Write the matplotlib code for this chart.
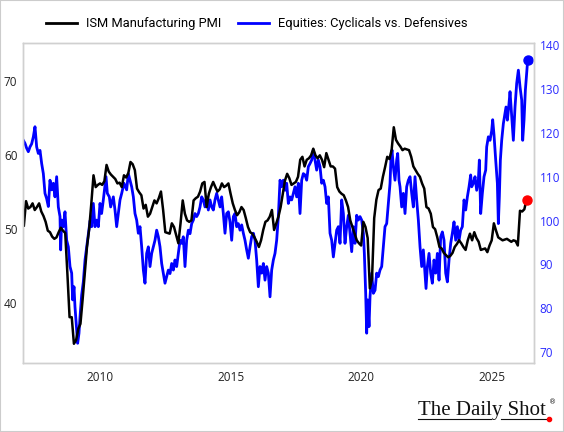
import numpy as np
import matplotlib
matplotlib.use("Agg")
import matplotlib.pyplot as plt
from matplotlib.lines import Line2D

# ISM Manufacturing PMI, monthly (month-end), Jan 2007 .. Apr 2026
pmi = [
    50.5, 53.8, 52.8, 53.0, 53.5, 52.6, 53.0, 53.5, 52.4, 51.8, 51.0, 49.8,   # 2007
    49.6, 49.0, 48.7, 48.9, 49.6, 50.2, 49.8, 49.5, 44.0, 38.1, 38.1, 34.5,   # 2008
    35.0, 36.5, 37.2, 40.5, 44.0, 47.6, 50.0, 53.5, 57.3, 55.7, 56.0, 56.2,   # 2009
    56.0, 56.5, 58.7, 57.8, 57.4, 57.1, 56.8, 56.2, 56.3, 55.7, 57.3, 57.0,   # 2010
    57.6, 59.1, 58.8, 58.0, 55.5, 55.0, 54.6, 52.8, 53.3, 51.7, 52.1, 53.0,   # 2011
    53.9, 53.5, 54.2, 55.1, 52.6, 49.6, 49.5, 49.4, 50.8, 50.3, 49.2, 48.1,   # 2012
    50.8, 53.9, 52.1, 51.2, 51.0, 51.2, 53.9, 54.2, 54.4, 55.1, 56.2, 56.4,   # 2013
    53.0, 54.8, 55.7, 56.4, 55.7, 55.1, 55.4, 56.2, 55.7, 55.9, 56.2, 54.8,   # 2014
    53.5, 52.6, 51.9, 52.3, 53.0, 52.6, 51.5, 50.3, 49.6, 49.4, 48.9, 48.3,   # 2015
    47.6, 48.5, 49.9, 51.0, 51.2, 51.7, 52.6, 49.9, 50.8, 51.7, 53.0, 54.8,   # 2016
    56.6, 57.5, 56.9, 56.0, 56.2, 56.4, 57.1, 59.4, 59.8, 58.5, 59.4, 59.6,   # 2017
    60.0, 60.9, 60.0, 59.6, 60.0, 59.4, 58.4, 60.3, 59.4, 58.5, 58.5, 58.2,   # 2018
    55.7, 55.1, 54.8, 54.6, 53.9, 53.0, 51.2, 50.3, 49.4, 48.5, 48.1, 47.8,   # 2019
    51.0, 50.3, 48.8, 42.0, 43.3, 51.5, 54.0, 55.3, 55.5, 57.1, 58.4, 59.8,   # 2020
    59.5, 60.7, 63.8, 62.1, 61.6, 61.2, 60.7, 60.9, 60.8, 60.7, 59.8, 58.5,   # 2021
    58.0, 57.5, 57.1, 56.2, 55.5, 53.0, 52.8, 52.1, 50.3, 50.0, 48.9, 47.6,   # 2022
    47.4, 46.8, 46.5, 46.2, 46.4, 46.8, 47.6, 48.0, 48.5, 48.1, 47.6, 47.2,   # 2023
    48.5, 49.4, 48.5, 49.6, 48.8, 48.3, 47.2, 47.3, 47.4, 46.9, 47.8, 48.5,   # 2024
    50.8, 49.8, 48.9, 48.7, 48.5, 48.6, 48.7, 48.5, 48.3, 48.5, 48.4, 47.8,   # 2025
    52.5, 52.4, 52.7, 54.0,                                                   # 2026
]
pmi_dates = 2007 + np.arange(1, len(pmi) + 1) / 12.0

# Equities: cyclicals vs. defensives (decimal years)
eq_dates = [
    2007.063, 2007.127, 2007.19, 2007.254, 2007.318, 2007.382, 2007.446, 2007.509, 2007.573, 2007.637,
    2007.701, 2007.765, 2007.829, 2007.892, 2007.956, 2008.020, 2008.084, 2008.148, 2008.212, 2008.275,
    2008.339, 2008.403, 2008.467, 2008.493, 2008.531, 2008.595, 2008.658, 2008.722, 2008.786, 2008.850,
    2008.914, 2008.952, 2009.003, 2009.041, 2009.105, 2009.143, 2009.194, 2009.233, 2009.296, 2009.36,
    2009.425, 2009.489, 2009.55, 2009.62, 2009.68, 2009.743, 2009.807, 2009.871, 2009.935, 2009.999,
    2010.06, 2010.126, 2010.229, 2010.28, 2010.356, 2010.407, 2010.51, 2010.573, 2010.637, 2010.70,
    2010.765, 2010.83, 2010.918, 2011.02, 2011.084, 2011.148, 2011.212, 2011.276, 2011.339, 2011.403,
    2011.467, 2011.531, 2011.595, 2011.659, 2011.722, 2011.786, 2011.85, 2011.914, 2011.978, 2012.042,
    2012.105, 2012.169, 2012.233, 2012.297, 2012.361, 2012.425, 2012.488, 2012.552, 2012.616, 2012.68,
    2012.744, 2012.808, 2012.871, 2012.935, 2012.999, 2013.063, 2013.127, 2013.19, 2013.254, 2013.318,
    2013.382, 2013.446, 2013.51, 2013.573, 2013.637, 2013.701, 2013.765, 2013.829, 2013.893, 2013.956,
    2014.02, 2014.084, 2014.148, 2014.212, 2014.276, 2014.339, 2014.403, 2014.467, 2014.531, 2014.595,
    2014.658, 2014.722, 2014.786, 2014.85, 2014.914, 2014.978, 2015.042, 2015.106, 2015.17, 2015.233,
    2015.297, 2015.361, 2015.425, 2015.489, 2015.552, 2015.616, 2015.68, 2015.744, 2015.808, 2015.872,
    2015.935, 2015.999, 2016.063, 2016.127, 2016.191, 2016.255, 2016.318, 2016.382, 2016.446, 2016.51,
    2016.574, 2016.638, 2016.701, 2016.765, 2016.829, 2016.893, 2016.957, 2017.02, 2017.084, 2017.148,
    2017.212, 2017.276, 2017.34, 2017.404, 2017.467, 2017.531, 2017.595, 2017.659, 2017.723, 2017.786,
    2017.85, 2017.914, 2017.978, 2018.042, 2018.106, 2018.169, 2018.233, 2018.297, 2018.361, 2018.425,
    2018.489, 2018.553, 2018.617, 2018.68, 2018.744, 2018.808, 2018.872, 2018.936, 2018.999, 2019.063,
    2019.127, 2019.191, 2019.255, 2019.319, 2019.382, 2019.446, 2019.51, 2019.574, 2019.638, 2019.702,
    2019.765, 2019.829, 2019.893, 2019.957, 2020.021, 2020.085, 2020.123, 2020.174, 2020.212, 2020.25,
    2020.302, 2020.34, 2020.404, 2020.468, 2020.532, 2020.595, 2020.659, 2020.723, 2020.787, 2020.851,
    2020.914, 2020.978, 2021.042, 2021.106, 2021.144, 2021.182, 2021.233, 2021.297, 2021.361, 2021.4,
    2021.45, 2021.489, 2021.553, 2021.617, 2021.68, 2021.744, 2021.808, 2021.872, 2021.936, 2021.999,
    2022.063, 2022.127, 2022.191, 2022.255, 2022.319, 2022.382, 2022.446, 2022.485, 2022.536, 2022.6,
    2022.664, 2022.727, 2022.791, 2022.855, 2022.919, 2022.983, 2023.046, 2023.11, 2023.174, 2023.238,
    2023.302, 2023.366, 2023.43, 2023.493, 2023.557, 2023.621, 2023.685, 2023.749, 2023.812, 2023.876,
    2023.94, 2024.004, 2024.068, 2024.132, 2024.195, 2024.234, 2024.298, 2024.361, 2024.425, 2024.489,
    2024.527, 2024.578, 2024.642, 2024.706, 2024.77, 2024.808, 2024.872, 2024.936, 2025.0, 2025.038,
    2025.089, 2025.153, 2025.217, 2025.255, 2025.293, 2025.332, 2025.383, 2025.446, 2025.51, 2025.548,
    2025.6, 2025.663, 2025.702, 2025.766, 2025.829, 2025.893, 2025.957, 2026.021, 2026.085, 2026.149,
    2026.187, 2026.238, 2026.289, 2026.34, 2026.378,
]
equities = [
    118.3, 117.6, 116.5, 115.7, 116.8, 117.5, 119.1, 121.4, 116.8, 115.3,
    116.0, 113.0, 110.7, 106.2, 105.0, 103.2, 109.2, 107.0, 108.5, 105.4,
    110.0, 103.1, 100.9, 93.3, 100.1, 98.6, 102.0, 95.5, 94.0, 89.5,
    88.0, 81.9, 84.9, 80.3, 75.0, 72.0, 74.3, 78.0, 83.0, 86.0,
    91.0, 94.0, 97.0, 100.0, 98.6, 103.9, 98.6, 100.1, 98.6, 103.9,
    101.6, 104.7, 110.0, 106.2, 105.4, 103.1, 105.4, 102.4, 98.6, 101.6,
    104.7, 106.2, 108.5, 107.0, 110.7, 109.2, 107.7, 105.4, 101.6, 100.1,
    97.1, 98.6, 94.0, 88.7, 85.7, 92.5, 94.0, 89.5, 92.5, 94.0,
    95.5, 97.8, 96.3, 94.0, 90.2, 87.9, 85.7, 87.2, 88.7, 87.9,
    90.2, 88.7, 91.0, 89.5, 92.5, 95.5, 94.8, 96.3, 89.5, 95.5,
    97.8, 97.0, 99.3, 100.1, 101.6, 100.9, 101.6, 103.1, 105.4, 104.7,
    103.1, 105.4, 102.4, 104.7, 103.1, 102.4, 104.7, 106.2, 104.7, 103.1,
    105.4, 101.6, 97.1, 101.6, 102.0, 99.7, 95.5, 100.9, 101.6, 98.6,
    99.3, 97.8, 99.0, 97.1, 95.5, 93.3, 91.4, 94.0, 96.3, 97.1,
    95.5, 91.0, 84.9, 89.5, 88.0, 90.2, 86.4, 89.5, 88.0, 82.6,
    88.7, 91.0, 92.5, 95.5, 100.9, 109.2, 107.7, 109.2, 106.9, 108.5,
    103.9, 105.4, 104.7, 106.2, 107.7, 105.4, 108.5, 101.6, 109.2, 110.7,
    110.4, 109.2, 112.3, 113.0, 113.8, 116.1, 113.8, 111.5, 113.8, 112.3,
    108.5, 109.2, 107.7, 103.9, 105.4, 97.1, 95.5, 91.7, 94.8, 97.8,
    98.6, 94.8, 104.7, 101.6, 94.8, 98.6, 101.2, 97.1, 92.9, 98.6,
    94.8, 101.2, 100.1, 100.9, 100.1, 97.1, 92.5, 83.4, 74.3, 81.9,
    75.8, 82.6, 88.0, 83.4, 84.1, 88.0, 87.2, 88.7, 89.5, 94.0,
    98.6, 99.3, 103.9, 108.5, 114.5, 116.1, 112.3, 109.2, 113.8, 115.3,
    109.2, 107.7, 103.1, 106.2, 101.6, 107.7, 109.2, 110.0, 106.2, 103.1,
    110.0, 104.7, 100.1, 94.0, 89.5, 93.3, 88.0, 84.5, 89.5, 92.5,
    88.0, 85.7, 91.0, 88.0, 92.5, 86.4, 96.3, 97.4, 95.5, 88.0,
    86.0, 91.0, 94.8, 97.1, 99.7, 95.5, 98.6, 95.5, 97.8, 98.6,
    104.7, 102.4, 105.4, 107.7, 110.4, 107.7, 108.5, 110.0, 106.9, 109.2,
    113.8, 101.6, 106.2, 110.0, 111.5, 116.8, 119.1, 118.3, 120.5, 123.0,
    119.5, 113.8, 108.5, 99.3, 105.4, 113.8, 118.3, 122.1, 124.4, 125.9,
    122.9, 126.7, 129.4, 123.7, 118.3, 125.9, 131.3, 134.3, 130.5, 127.5,
    118.3, 122.9, 129.7, 133.5, 136.6,
]

x_ticks = [2010, 2015, 2020, 2025]
left_ticks = [40, 50, 60, 70]
right_ticks = [70, 80, 90, 100, 110, 120, 130, 140]

plt.rcParams['font.family'] = ['Open Sans', 'DejaVu Sans']

fig = plt.figure(figsize=(5.64, 4.32), dpi=100)
ax = fig.add_axes([23 / 564, 69 / 432, 511 / 564, 320 / 432])
axb = ax.twinx()

# blue series on the right axis, PMI on the left (drawn on top)
ax.plot(eq_dates, equities, color='#0000ff', lw=2.0, solid_joinstyle='round')
ax.plot(eq_dates[-1], equities[-1], 'o', color='#0000ff', ms=6.5)
axb.plot(pmi_dates, pmi, color='black', lw=1.8, solid_joinstyle='round')
axb.plot(pmi_dates[-1], pmi[-1], 'o', color='#ff0000', ms=6.5)

ax.yaxis.tick_right()
axb.yaxis.tick_left()
ax.set_ylim(67.5, 140.5)
axb.set_ylim(31.9, 75.2)
ax.set_xlim(2007.05, 2026.62)
ax.set_xticks(x_ticks)
ax.set_xticklabels([str(t) for t in x_ticks])
ax.set_yticks(right_ticks)
axb.set_yticks(left_ticks)

ax.tick_params(axis='x', length=0, pad=6, labelsize=8.5, colors='#222222')
ax.tick_params(axis='y', length=0, pad=4, labelsize=8.5, labelcolor='#2a2aff')
axb.tick_params(axis='y', length=0, pad=4, labelsize=8.5, labelcolor='#222222')

for a in (ax, axb):
    for s in a.spines.values():
        s.set_color('#d0d0d0')
        s.set_linewidth(1.0)

handles = [Line2D([], [], color='black', lw=2),
           Line2D([], [], color='#0000ff', lw=2)]
fig.legend(handles, ['ISM Manufacturing PMI', 'Equities: Cyclicals vs. Defensives'],
           loc='center', bbox_to_anchor=(257 / 564, 1 - 24 / 432), ncol=2, frameon=False,
           handlelength=2.4, handletextpad=0.7, columnspacing=1.3,
           prop={'family': ['Roboto', 'DejaVu Sans'], 'size': 9.3})

# watermark
fig.text(546 / 564, 1 - 415 / 432, 'The Daily Shot', ha='right', va='baseline',
         family='Liberation Serif', fontsize=15, color='#111111')
fig.text(549 / 564, 1 - 404 / 432, '®', ha='left', va='baseline',
         family='DejaVu Sans', fontsize=5, color='#111111')
fig.add_artist(Line2D([418 / 564, 491 / 564], [1 - 419 / 432] * 2, color='#111111', lw=0.8))
fig.add_artist(Line2D([501 / 564, 546 / 564], [1 - 419 / 432] * 2, color='#111111', lw=0.8))
fig.add_artist(Line2D([548.5 / 564], [1 - 419 / 432], marker='o', ms=3, color='#ff0000', lw=0))

# outer border
fig.add_artist(plt.Rectangle((0, 0), 1, 1, transform=fig.transFigure, fill=False,
                             edgecolor='#cccccc', lw=1.5))

fig.savefig('out.png', dpi=100)
